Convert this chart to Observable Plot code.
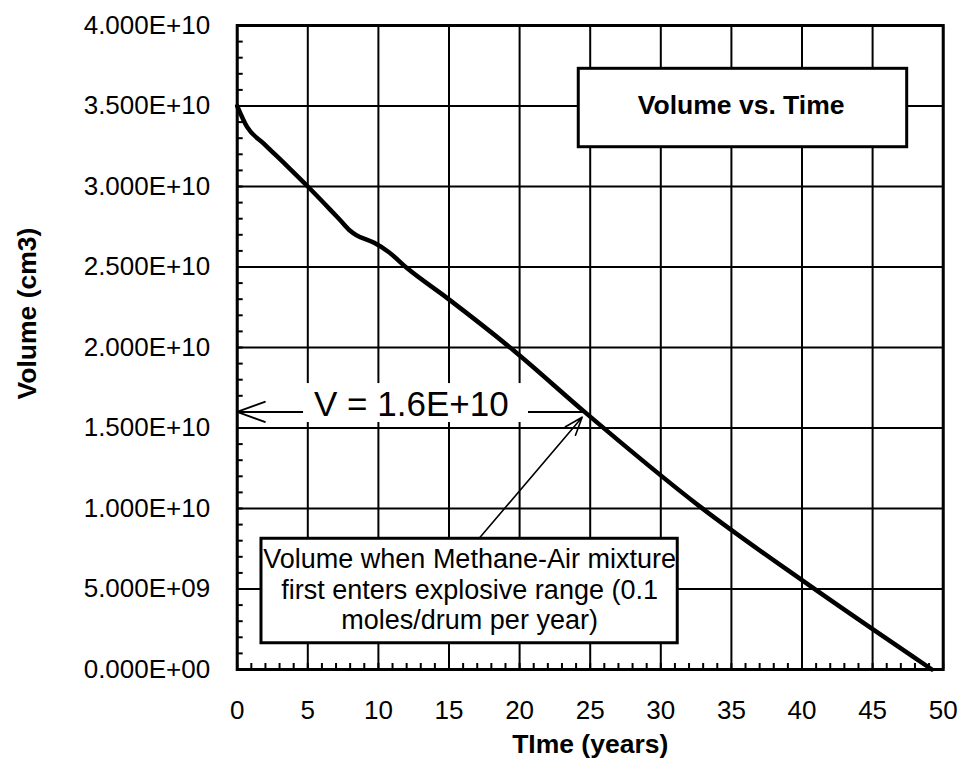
<!DOCTYPE html>
<html>
<head>
<meta charset="utf-8">
<script src="https://cdn.jsdelivr.net/npm/d3@7"></script>
<script src="https://cdn.jsdelivr.net/npm/@observablehq/plot@0.6"></script>
<style>
  html, body { margin: 0; padding: 0; background: #fff; }
  #chart svg { display: block; }
</style>
</head>
<body>
<div id="chart"></div>
<script>
// ---- data ----
const timeYears = [0, 0.7, 1.9, 3.5, 5, 6.6, 7.3, 8.0, 8.4, 9.7, 10.7, 12.0, 14.9, 19.6, 24.6, 32.8, 40.4, 49.2];
const volumeCm3 = [3.50e10, 3.37e10, 3.265e10, 3.13e10, 3.00e10, 2.855e10, 2.79e10, 2.725e10, 2.70e10, 2.65e10, 2.595e10, 2.495e10, 2.305e10, 1.98e10, 1.60e10, 1.01e10, 5.3e9, 0];

const xTicks = [0, 5, 10, 15, 20, 25, 30, 35, 40, 45, 50];
const xTickLabels = ["0", "5", "10", "15", "20", "25", "30", "35", "40", "45", "50"];
const yTicks = [0, 5e9, 1e10, 1.5e10, 2e10, 2.5e10, 3e10, 3.5e10, 4e10];
const yTickLabels = ["0.000E+00", "5.000E+09", "1.000E+10", "1.500E+10", "2.000E+10", "2.500E+10", "3.000E+10", "3.500E+10", "4.000E+10"];
const xMinor = d3.range(0, 51, 1);
const yMinor = d3.range(0, 4.01e10, 1e9);

const xTitle = "TIme (years)";
const yTitle = "Volume (cm3)";
const boxTitle = "Volume vs. Time";
const vLabel = "V = 1.6E+10";
const vValue = 1.6e10;
const vCrossTime = 24.6;
const noteText = "Volume when Methane-Air mixture\nfirst enters explosive range (0.1\nmoles/drum per year)";

// annotation anchors in data units
const yTitlePos = {x: -14.85, y: 2.211e10};
const titleBox = {x1: 24.19, x2: 47.45, y1: 3.244e10, y2: 3.731e10, cx: 35.69, cy: 3.503e10};
const noteBox = {x1: 1.72, x2: 31.2, y1: 1.63e9, y2: 8.12e9, cx: 16.46, cy: 5.0e9};
const vLabelBox = {x1: 4.7, x2: 20.63, y1: 1.534e10, y2: 1.776e10, cx: 12.33, cy: 1.646e10};
const noteArrow = {x1: 17.11, y1: 8.12e9, x2: 24.43, y2: 1.567e10};

const data = timeYears.map((t, i) => ({t, v: volumeCm3[i]}));
const font = "'Liberation Sans', Arial, Helvetica, sans-serif";

const chart = Plot.plot({
  width: 958,
  height: 766,
  marginLeft: 236.7,
  marginRight: 15.3,
  marginTop: 25,
  marginBottom: 97,
  style: {fontFamily: font, fontSize: "26px", color: "#000", background: "#fff"},
  x: {domain: [0, 50], axis: null},
  y: {domain: [0, 4e10], axis: null},
  marks: [
    // grid
    Plot.ruleX(xTicks, {stroke: "#000", strokeWidth: 2}),
    Plot.ruleY(yTicks, {stroke: "#000", strokeWidth: 2}),
    // minor ticks
    Plot.ruleX(xMinor, {y1: 0, y2: 0, insetTop: -6, stroke: "#000", strokeWidth: 2}),
    Plot.ruleY(yMinor, {x1: 0, x2: 0, insetRight: -6, stroke: "#000", strokeWidth: 2}),
    // frame
    Plot.frame({stroke: "#000", strokeWidth: 3}),
    // tick labels
    Plot.text(xTicks, {x: d => d, text: (d, i) => xTickLabels[i], frameAnchor: "bottom", dy: 41, lineAnchor: "middle", textAnchor: "middle", fontSize: 26, fill: "#000"}),
    Plot.text(yTicks, {y: d => d, text: (d, i) => yTickLabels[i], frameAnchor: "left", dx: -27, lineAnchor: "middle", textAnchor: "end", fontSize: 26, fill: "#000"}),
    // axis titles
    Plot.text([xTitle], {frameAnchor: "bottom", dy: 75, lineAnchor: "middle", fontWeight: "bold", fontSize: 26.5, fill: "#000"}),
    Plot.text([yTitlePos], {x: "x", y: "y", text: () => yTitle, rotate: -90, lineAnchor: "middle", fontWeight: "bold", fontSize: 26.5, fill: "#000"}),
    // V = 1.6E+10 horizontal arrow
    Plot.arrow([{x1: vCrossTime, x2: 0, y: vValue}], {x1: "x1", x2: "x2", y1: "y", y2: "y", stroke: "#000", strokeWidth: 2, headLength: 22, headAngle: 40}),
    Plot.rect([vLabelBox], {x1: "x1", x2: "x2", y1: "y1", y2: "y2", fill: "#fff"}),
    Plot.text([vLabelBox], {x: "cx", y: "cy", text: () => vLabel, fontSize: 35, lineAnchor: "middle", fill: "#000"}),
    // curve
    Plot.line(data, {x: "t", y: "v", stroke: "#000", strokeWidth: 4.5, curve: "monotone-x"}),
    // note arrow + box
    Plot.arrow([noteArrow], {x1: "x1", y1: "y1", x2: "x2", y2: "y2", stroke: "#000", strokeWidth: 1.6, headLength: 18, headAngle: 40}),
    Plot.rect([noteBox], {x1: "x1", x2: "x2", y1: "y1", y2: "y2", fill: "#fff", stroke: "#000", strokeWidth: 3}),
    Plot.text([noteBox], {x: "cx", y: "cy", text: () => noteText, fontSize: 27, lineHeight: 1.13, lineAnchor: "middle", fill: "#000"}),
    // title box
    Plot.rect([titleBox], {x1: "x1", x2: "x2", y1: "y1", y2: "y2", fill: "#fff", stroke: "#000", strokeWidth: 3}),
    Plot.text([titleBox], {x: "cx", y: "cy", text: () => boxTitle, fontSize: 26.5, fontWeight: "bold", lineAnchor: "middle", fill: "#000"})
  ]
});
document.getElementById("chart").appendChild(chart);
</script>
</body>
</html>
